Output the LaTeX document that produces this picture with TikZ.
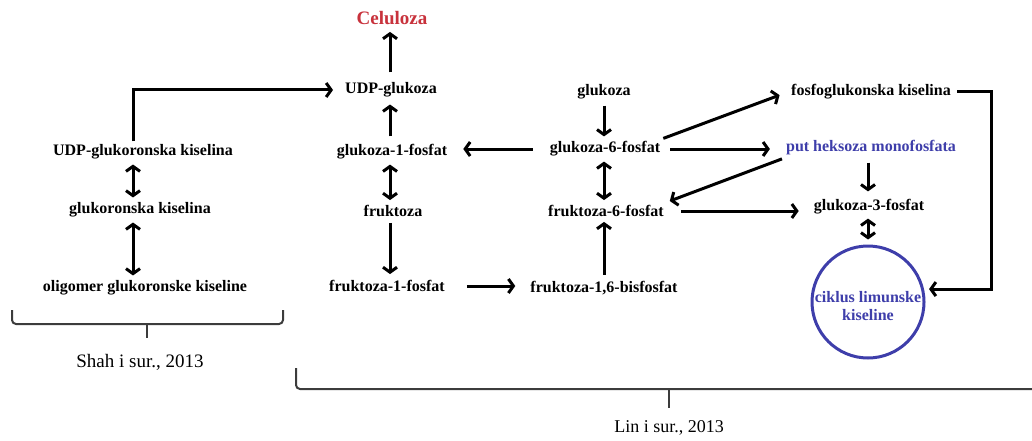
\documentclass[tikz,border=0pt]{standalone}
\usepackage{fontspec}
\setmainfont{Liberation Serif}
\usetikzlibrary{arrows.meta,calc}
\definecolor{cred}{RGB}{200,50,60}
\definecolor{cblue}{RGB}{62,62,170}
\definecolor{cgray}{RGB}{60,60,60}
\begin{document}
\begin{tikzpicture}[x=1pt,y=-1pt,
  lbl/.style={font=\bfseries\fontsize{16}{18}\selectfont, inner sep=3pt},
  cite/.style={font=\fontsize{18}{20}\selectfont, inner sep=0pt},
  arr/.style={line width=3pt, -{Straight Barb[length=5pt,width=14pt]}},
  darr/.style={line width=3pt, {Straight Barb[length=5pt,width=14pt]}-{Straight Barb[length=5pt,width=14pt]}},
  ln/.style={line width=3pt},
  brace/.style={line width=2pt, draw=cgray, rounded corners=4pt}]
\useasboundingbox (0,0) rectangle (1032,441);
% column guides
\coordinate (lx) at (133,0);
\coordinate (mx) at (390,0);
\coordinate (rx) at (604,0);
\coordinate (fx) at (868,0);
% nodes
\node[lbl, text=cred, font=\bfseries\fontsize{19}{21}\selectfont] (cel) at (392,18) {Celuloza};
\node[lbl] (udpg) at (391,90) {UDP-glukoza};
\node[lbl] (g1p) at (392,152) {glukoza-1-fosfat};
\node[lbl] (fru) at (393,211) {fruktoza};
\node[lbl] (f1p) at (387,286) {fruktoza-1-fosfat};
\node[lbl] (glc) at (604,92) {glukoza};
\node[lbl] (g6p) at (605,149) {glukoza-6-fosfat};
\node[lbl] (f6p) at (606,211) {fruktoza-6-fosfat};
\node[lbl] (f16) at (604,288) {fruktoza-1,6-bisfosfat};
\node[lbl] (fgk) at (871,92) {fosfoglukonska kiselina};
\node[lbl, text=cblue] (phm) at (871,148) {put heksoza monofosfata};
\node[lbl] (g3p) at (869,207) {glukoza-3-fosfat};
\node[circle, draw=cblue, line width=3pt, minimum size=112pt, inner sep=0pt] (tca) at (868,302) {};
\node[lbl, text=cblue, align=center] (tcat) at (868,306) {ciklus limunske\\kiseline};
\node[lbl] (udpgk) at (143,152) {UDP-glukoronska kiselina};
\node[lbl] (gk) at (140,210) {glukoronska kiselina};
\node[lbl] (olig) at (145,288) {oligomer glukoronske kiseline};
\node[cite, font=\fontsize{19}{21}\selectfont] (shah) at (140,362) {Shah i sur., 2013};
\node[cite] (lin) at (669,428) {Lin i sur., 2013};
% left column
\draw[ln, -{Straight Barb[length=5pt,width=14pt]}, shorten >=9pt] (udpgk.north -| lx) |- (udpg.west);
\draw[darr, shorten <=2pt, shorten >=2pt] (udpgk.south -| lx) -- (gk.north -| lx);
\draw[darr, shorten <=2pt, shorten >=2pt] (gk.south -| lx) -- (olig.north -| lx);
% middle column
\draw[arr, shorten <=7pt, shorten >=4pt] (udpg.north -| mx) -- (cel.south -| mx);
\draw[arr, shorten <=5pt, shorten >=4pt] (g1p.north -| mx) -- (udpg.south -| mx);
\draw[darr, shorten <=2pt, shorten >=2pt] (g1p.south -| mx) -- (fru.north -| mx);
\draw[arr, shorten <=3pt, shorten >=3pt] (fru.south -| mx) -- (f1p.north -| mx);
\draw[arr, shorten <=19pt, shorten >=12pt] (f1p.east) -- (f1p.east -| f16.west);
% right column
\draw[arr, shorten <=3pt, shorten >=2pt] (glc.south -| rx) -- (g6p.north -| rx);
\draw[darr, shorten <=2pt, shorten >=2pt] (g6p.south -| rx) -- (f6p.north -| rx);
\draw[arr, shorten <=3pt, shorten >=2pt] (f16.north -| rx) -- (f6p.south -| rx);
\draw[arr, shorten <=14pt, shorten >=13pt] (g6p.west) -- (g6p.west -| g1p.east);
\draw[arr, shorten >=9pt] (g6p.north east) -- (fgk.west);
\draw[arr, shorten <=7pt, shorten >=13pt] (g6p.east) -- (g6p.east -| phm.west);
\draw[arr, shorten <=1pt, shorten >=3pt] (phm.south west) -- (f6p.north east);
\draw[arr, shorten <=14pt, shorten >=12pt] (f6p.east) -- (f6p.east -| g3p.west);
% far right
\draw[arr, shorten <=4pt, shorten >=5pt] (phm.south -| fx) -- (g3p.north -| fx);
\draw[darr, shorten <=1pt, shorten >=5pt] (g3p.south -| fx) -- (tca.north -| fx);
\draw[ln, -{Straight Barb[length=5pt,width=14pt]}, shorten <=3pt, shorten >=5pt] (fgk.east) -- ++(37,0) |- (tca.13);
% braces
\draw[brace] (12,310) |- (147,324) -- (283,324) -- (283,310);
\draw[line width=2pt, draw=cgray] (147,324) -- (147,338);
\draw[brace] (296,368) |- (669,389) -- (1040,389);
\draw[line width=2pt, draw=cgray] (669,389) -- (669,408);
\end{tikzpicture}
\end{document}
